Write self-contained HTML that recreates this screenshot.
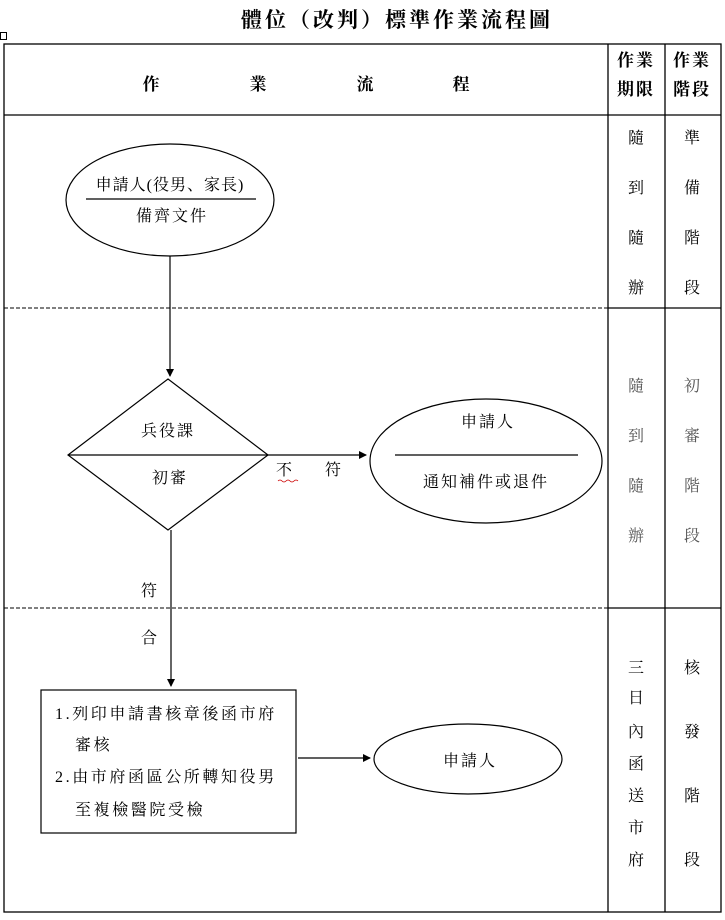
<!DOCTYPE html>
<html><head><meta charset="utf-8"><style>
html,body{margin:0;padding:0;background:#fff;}
svg text{font-family:"Liberation Serif","Noto Serif CJK SC","Noto Sans CJK TC",serif;fill:#000;}
</style></head><body>
<svg width="725" height="915" viewBox="0 0 725 915" xmlns="http://www.w3.org/2000/svg">
<defs><marker id="a" markerWidth="8" markerHeight="8" refX="7" refY="4" orient="auto" markerUnits="userSpaceOnUse"><path d="M0,0 L8,4 L0,8 z" fill="#000"/></marker></defs>
<text x="397" y="27" font-size="21" font-weight="bold" text-anchor="middle" letter-spacing="3" font-family="Noto Sans CJK TC,sans-serif">體位（改判）標準作業流程圖</text>
<rect x="0.5" y="32.5" width="6" height="7" fill="none" stroke="#000" stroke-width="1"/>
<g stroke="#000" stroke-width="1.3" fill="none">
<rect x="4" y="44" width="717" height="868"/>
<line x1="608" y1="44" x2="608" y2="912"/>
<line x1="665" y1="44" x2="665" y2="912"/>
<line x1="4" y1="115" x2="721" y2="115"/>
<line x1="608" y1="308" x2="721" y2="308"/>
<line x1="608" y1="608" x2="721" y2="608"/>
</g>
<g stroke="#000" stroke-width="1" stroke-dasharray="4,2">
<line x1="4" y1="308" x2="608" y2="308"/>
<line x1="4" y1="608" x2="608" y2="608"/>
</g>
<g font-size="17" font-weight="bold" font-family="Noto Sans CJK TC,sans-serif">
<text x="151" y="90" text-anchor="middle">作</text>
<text x="258" y="90" text-anchor="middle">業</text>
<text x="365" y="90" text-anchor="middle">流</text>
<text x="461" y="90" text-anchor="middle">程</text>
<text x="636" y="66" text-anchor="middle" letter-spacing="2">作業</text>
<text x="636" y="95" text-anchor="middle" letter-spacing="2">期限</text>
<text x="692" y="66" text-anchor="middle" letter-spacing="2">作業</text>
<text x="692" y="95" text-anchor="middle" letter-spacing="2">階段</text>
</g>
<g font-size="16" text-anchor="middle">
<text x="636" y="143">隨</text><text x="636" y="193">到</text><text x="636" y="243">隨</text><text x="636" y="293">辦</text>
<text x="692" y="143">準</text><text x="692" y="193">備</text><text x="692" y="243">階</text><text x="692" y="293">段</text>
<text x="636" y="391" style="fill:#555">隨</text><text x="636" y="441" style="fill:#555">到</text><text x="636" y="491" style="fill:#555">隨</text><text x="636" y="541" style="fill:#555">辦</text>
<text x="692" y="391" style="fill:#555">初</text><text x="692" y="441" style="fill:#555">審</text><text x="692" y="491" style="fill:#555">階</text><text x="692" y="541" style="fill:#555">段</text>
<text x="636" y="673">三</text><text x="636" y="703">日</text><text x="636" y="737">內</text><text x="636" y="769">函</text><text x="636" y="801">送</text><text x="636" y="833">市</text><text x="636" y="865">府</text>
<text x="692" y="673">核</text><text x="692" y="737">發</text><text x="692" y="801">階</text><text x="692" y="865">段</text>
</g>
<g stroke="#000" stroke-width="1.2" fill="none">
<ellipse cx="170" cy="200" rx="104" ry="56"/>
<line x1="86" y1="199" x2="256" y2="199"/>
<line x1="170" y1="256" x2="170" y2="376" marker-end="url(#a)"/>
<polygon points="168,379 268,455 168,530 68,455"/>
<line x1="68" y1="455" x2="268" y2="455"/>
<line x1="268" y1="455" x2="366" y2="455" marker-end="url(#a)"/>
<ellipse cx="486" cy="461" rx="116" ry="62"/>
<line x1="395" y1="455" x2="578" y2="455"/>
<line x1="171" y1="530" x2="171" y2="686" marker-end="url(#a)"/>
<rect x="41" y="690" width="255" height="143"/>
<line x1="298" y1="758" x2="370" y2="758" marker-end="url(#a)"/>
<ellipse cx="468" cy="759" rx="94" ry="35"/>
</g>
<path d="M278,481 q2,-2 4,0 t4,0 t4,0 t4,0 t4,0" stroke="#c00" fill="none" stroke-width="0.8"/>
<g font-size="16" text-anchor="middle" letter-spacing="2">
<text x="170" y="190" letter-spacing="1">申請人(役男、家長)</text>
<text x="172" y="221">備齊文件</text>
<text x="168" y="436">兵役課</text>
<text x="170" y="483">初審</text>
<text x="285" y="475">不</text>
<text x="334" y="475">符</text>
<text x="488" y="427">申請人</text>
<text x="486" y="487">通知補件或退件</text>
<text x="150" y="596">符</text>
<text x="150" y="643">合</text>
<text x="470" y="766">申請人</text>
</g>
<g font-size="16" letter-spacing="2.6">
<text x="55" y="719">1.列印申請書核章後函市府</text>
<text x="75" y="750">審核</text>
<text x="55" y="782">2.由市府函區公所轉知役男</text>
<text x="75" y="815">至複檢醫院受檢</text>
</g>
</svg>
</body></html>
